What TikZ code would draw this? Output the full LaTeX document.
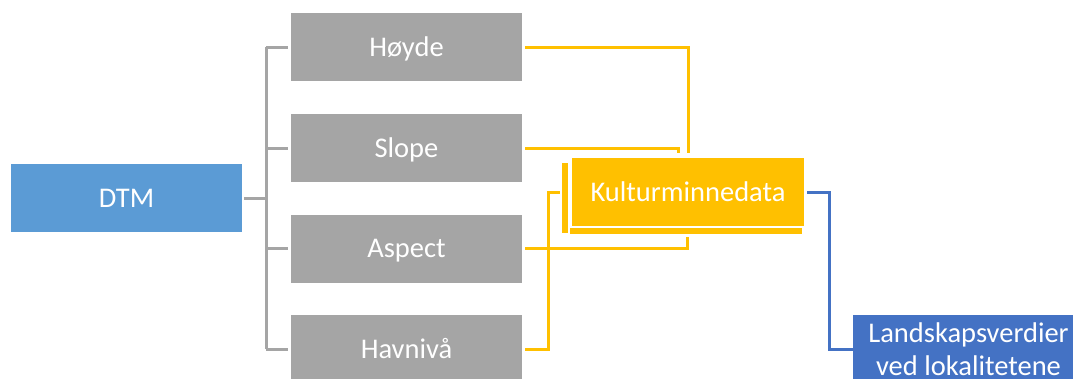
\documentclass[tikz,border=0pt]{standalone}
\usepackage{fontspec}
\setmainfont{Carlito}
\definecolor{boxgray}{HTML}{A5A5A5}
\definecolor{dtmblue}{HTML}{5B9BD5}
\definecolor{gold}{HTML}{FFC000}
\definecolor{deepblue}{HTML}{4472C4}
\tikzset{
  card/.style={rectangle, minimum width=231pt, minimum height=68pt, inner sep=0pt,
    text=white, font=\fontsize{28.5}{33}\selectfont},
  onecard/.style={card, text height=18pt, text depth=0pt},
  graybox/.style={onecard, fill=boxgray},
  graylink/.style={draw=boxgray, line width=3pt},
  goldlink/.style={draw=gold, line width=3pt},
  bluelink/.style={draw=deepblue, line width=3pt},
}
\begin{document}
\begin{tikzpicture}[x=1pt,y=-1pt]
\useasboundingbox (0,0) rectangle (1073,378);
\begin{scope}
\clip (0,0) rectangle (1073,378);

% source and derived terrain layers
\node[onecard, fill=dtmblue] (dtm) at (126.5,198) {DTM};
\node[graybox] (hoyde) at (406.5,47) {Høyde};
\node[graybox] (slope) at (406.5,148) {Slope};
\node[graybox] (aspect) at (406.5,248.5) {Aspect};
\node[graybox] (havniva) at (406.5,349) {Havnivå};

% stacked heritage-data box
\node[onecard, fill=gold, minimum width=232pt] (kultur) at (688,192) {Kulturminnedata};
\fill[gold] (562,163) rectangle (568,233);
\fill[gold] (570,228) rectangle (802,234);

% result
\node[card, fill=deepblue, align=center] (lands) at (968.5,349) {Landskapsverdier\\ved lokalitetene};

% tree from DTM to the four layers
\coordinate (trunk) at (266,198);
\draw[graylink] ([xshift=2pt]dtm.east) -- (trunk);
\draw[graylink] (trunk |- hoyde.west) -- (trunk |- havniva.west);
\foreach \n in {hoyde,slope,aspect,havniva}
  \draw[graylink] (trunk |- \n.west) -- ([xshift=-3pt]\n.west);

% layers into heritage data
\coordinate (hk) at (688,153);
\coordinate (sk) at (678,153);
\coordinate (ak) at (687,237);
\coordinate (nk) at (548,192);
\coordinate (nkend) at (560,192);
\draw[goldlink] ([xshift=3pt]hoyde.east) -| (hk);
\draw[goldlink] ([xshift=3pt]slope.east) -| (sk);
\draw[goldlink] ([xshift=3pt]aspect.east) -| (ak);
\draw[goldlink] ([xshift=3pt]havniva.east) -| (nk) -- (nkend);

% heritage data to landscape values
\coordinate (bk) at (829,192);
\draw[bluelink] ([xshift=3pt]kultur.east) -- (bk) |- (lands.west);
\end{scope}
\end{tikzpicture}
\end{document}
